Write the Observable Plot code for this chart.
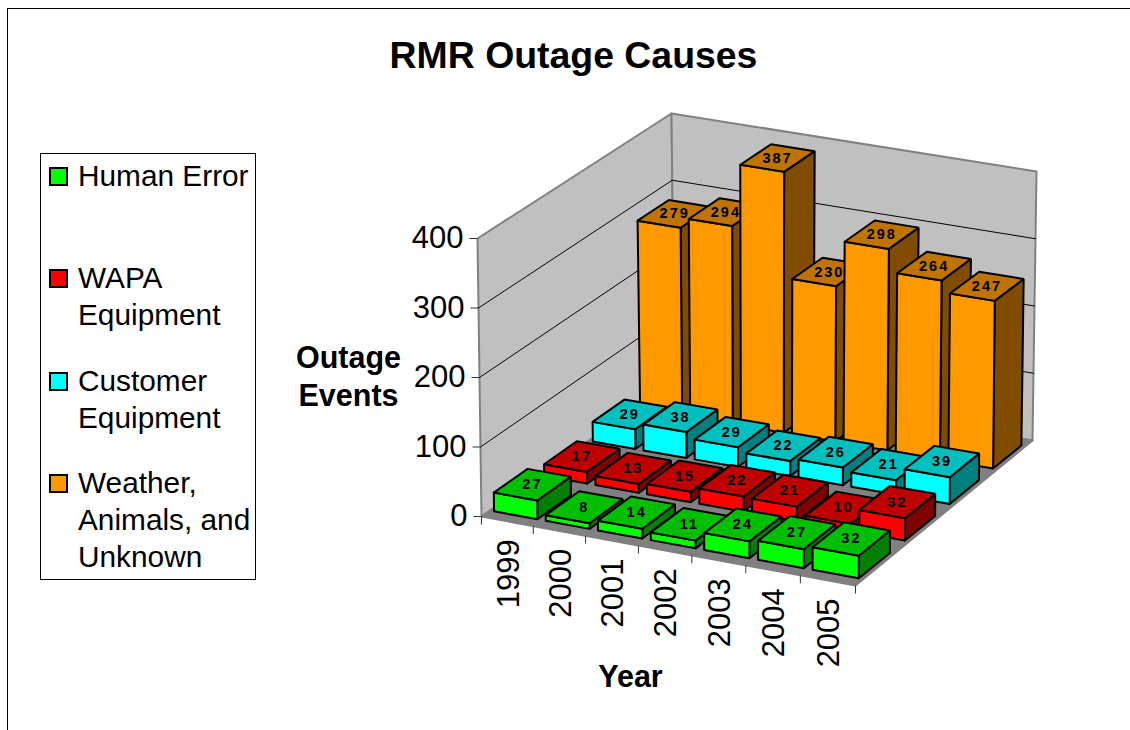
<!DOCTYPE html>
<html><head><meta charset="utf-8">
<script src="https://cdn.jsdelivr.net/npm/d3@7"></script>
<script src="https://cdn.jsdelivr.net/npm/@observablehq/plot@0.6"></script>
<style>
html,body{margin:0;padding:0;background:#fff;overflow:hidden}
#page{position:relative;width:1130px;height:730px;font-family:"Liberation Sans",Arial,sans-serif;color:#000}
#frame{position:absolute;left:7px;top:8px;right:-5px;bottom:-5px;border:1.5px solid #000;box-sizing:border-box}
#title{position:absolute;left:0;top:32px;width:1147px;text-align:center;font-size:37.4px;font-weight:bold;line-height:46px;margin:0}
#legend{position:absolute;left:40px;top:153px;width:216px;height:427px;border:1px solid #000;box-sizing:border-box}
.item{position:absolute;left:37px;font-size:29.8px;line-height:37px;white-space:nowrap}
.sw{position:absolute;left:-29px;top:10px;width:19px;height:19px;border:2px solid #000;box-sizing:border-box}
svg{position:absolute;left:0;top:0}
.lbl{letter-spacing:2px}
</style></head><body>
<div id="page"><div id="frame"></div><div id="plot"></div><h1 id="title">RMR Outage Causes</h1><div id="legend"></div></div>
<script>
const years = ["1999","2000","2001","2002","2003","2004","2005"];
const seriesNames = ["Human Error","WAPA<br>Equipment","Customer<br>Equipment","Weather,<br>Animals, and<br>Unknown"];
const humanError = [27,8,14,11,24,27,32];
const wapa = [17,13,15,22,21,10,32];
const customer = [29,38,29,22,26,21,39];
const weather = [279,294,387,230,298,264,247];
const valueTicks = [0,100,200,300,400];
const frontColors = ["#00ff00","#ff0000","#00ffff","#ff9900"];
const topColors = ["#00bf00","#bf0000","#00bfbf","#bf7300"];
const sideColors = ["#007f00","#7f0000","#007f7f","#7f4c00"];

// the 3-D box of the chart as seen on the page: floor and ceiling corners (front-left, front-right, back-right, back-left)
const floorQuad = [[481,516],[855,585],[1032,440],[674,380]];
const ceilQuad  = [[477,238],[855,301],[1036,171],[671,113]];
function homography(q){
  const [[x0,y0],[x1,y1],[x2,y2],[x3,y3]] = q;
  const dx1=x1-x2, dx2=x3-x2, sx=x0-x1+x2-x3, dy1=y1-y2, dy2=y3-y2, sy=y0-y1+y2-y3;
  const d=dx1*dy2-dx2*dy1, g=(sx*dy2-dx2*sy)/d, h=(dx1*sy-sx*dy1)/d;
  const a=x1-x0+g*x1, b=x3-x0+h*x3, e=y1-y0+g*y1, f=y3-y0+h*y3;
  return (u,w)=>{const k=g*u+h*w+1; return [(a*u+b*w+x0)/k,(e*u+f*w+y0)/k];};
}
const H0=homography(floorQuad), H1=homography(ceilQuad);
const nU=years.length, nW=seriesNames.length, vMax=400;
function project(u,w,v){
  const p=H0(u/nU,w/nW), q=H1(u/nU,w/nW), t=v/vMax;
  return [p[0]+(q[0]-p[0])*t, p[1]+(q[1]-p[1])*t];
}
const gapU=0.08, gapW=0.165;
const table=[humanError,wapa,customer,weather];
const faces=[]; const labels=[];
function face(id,fill,corners){
  [...corners,corners[0]].forEach(c=>{const [px,py]=project(...c); faces.push({id,fill,px,py});});
}
for(let s=nW-1;s>=0;s--){
  table[s].forEach((v,i)=>{
    const u0=i+gapU,u1=i+1-gapU,w0=s+gapW,w1=s+1-gapW;
    face(`s${s}-${i}`,sideColors[s],[[u1,w0,0],[u1,w1,0],[u1,w1,v],[u1,w0,v]]);
    face(`f${s}-${i}`,frontColors[s],[[u0,w0,0],[u1,w0,0],[u1,w0,v],[u0,w0,v]]);
    face(`t${s}-${i}`,topColors[s],[[u0,w0,v],[u1,w0,v],[u1,w1,v],[u0,w1,v]]);
    const [px,py]=project(i+.5,s+.5,v);
    labels.push({px,py,v});
  });
}
const shell=[];
function shellFace(id,fill,corners){
  [...corners,corners[0]].forEach(c=>{const [px,py]=project(...c); shell.push({id,fill,px,py});});
}
shellFace("left","#c0c0c0",[[0,0,0],[0,nW,0],[0,nW,vMax],[0,0,vMax]]);
shellFace("back","#c0c0c0",[[0,nW,0],[nU,nW,0],[nU,nW,vMax],[0,nW,vMax]]);
shellFace("floor","#808080",[[0,0,0],[nU,0,0],[nU,nW,0],[0,nW,0]]);
const grid=valueTicks.filter(v=>v>0&&v<vMax).flatMap(v=>[[0,0],[0,nW],[nU,nW]].map(([u,w])=>{
  const [px,py]=project(u,w,v); return {v,px,py};}));
const vAxis=valueTicks.map(v=>{const [px,py]=project(0,0,v); return {v,px,py};});
const uTicks=d3.range(nU+1).map(i=>{const [px,py]=project(i,0,0); return {px,py};});
const uLabels=years.map((y,i)=>{const [px,py]=project(i+.5,0,0); return {y,px,py};});

const chart=Plot.plot({
  width:1130,height:730,margin:0,
  x:{domain:[0,1130],range:[0,1130],axis:null},
  y:{domain:[0,730],range:[0,730],axis:null},
  color:{type:"identity"},
  style:{background:"transparent",fontFamily:'"Liberation Sans",Arial,sans-serif',color:"#000"},
  marks:[
    Plot.line(shell,{x:"px",y:"py",z:"id",fill:"fill",stroke:"#808080",strokeWidth:2}),
    Plot.line(grid,{x:"px",y:"py",z:"v",stroke:"#000",strokeWidth:1}),
    Plot.link(vAxis,{x1:d=>d.px-8,x2:"px",y1:"py",y2:"py",stroke:"#333",strokeWidth:1}),
    Plot.text(vAxis,{x:"px",y:"py",text:d=>String(d.v),textAnchor:"end",dx:-14,fontSize:31}),
    Plot.link(uTicks,{x1:"px",x2:"px",y1:"py",y2:d=>d.py+8,stroke:"#333",strokeWidth:1}),
    Plot.text(uLabels,{x:"px",y:"py",text:"y",rotate:-90,textAnchor:"end",dx:1.5,dy:18,fontSize:31}),
    Plot.line(faces,{x:"px",y:"py",z:"id",fill:"fill",stroke:"#000",strokeWidth:2,strokeLinejoin:"miter"}),
    Plot.text(labels,{x:"px",y:"py",text:d=>String(d.v),fontSize:14.5,fontWeight:"bold",className:"lbl"}),
    Plot.text(["Outage"],{x:()=>348,y:()=>358,fontSize:30.5,fontWeight:"bold"}),
    Plot.text(["Events"],{x:()=>348,y:()=>396,fontSize:30.5,fontWeight:"bold"}),
    Plot.text(["Year"],{x:()=>630,y:()=>677,fontSize:30.5,fontWeight:"bold"})
  ]
});
document.getElementById("plot").append(chart);
const legend=document.getElementById("legend");
seriesNames.forEach((name,i)=>{
  const it=document.createElement("div");
  it.className="item"; it.style.top=[3,105,208,310][i]+"px"; it.innerHTML=name;
  const sw=document.createElement("span"); sw.className="sw"; sw.style.background=frontColors[i];
  it.prepend(sw); legend.append(it);
});
</script></body></html>
